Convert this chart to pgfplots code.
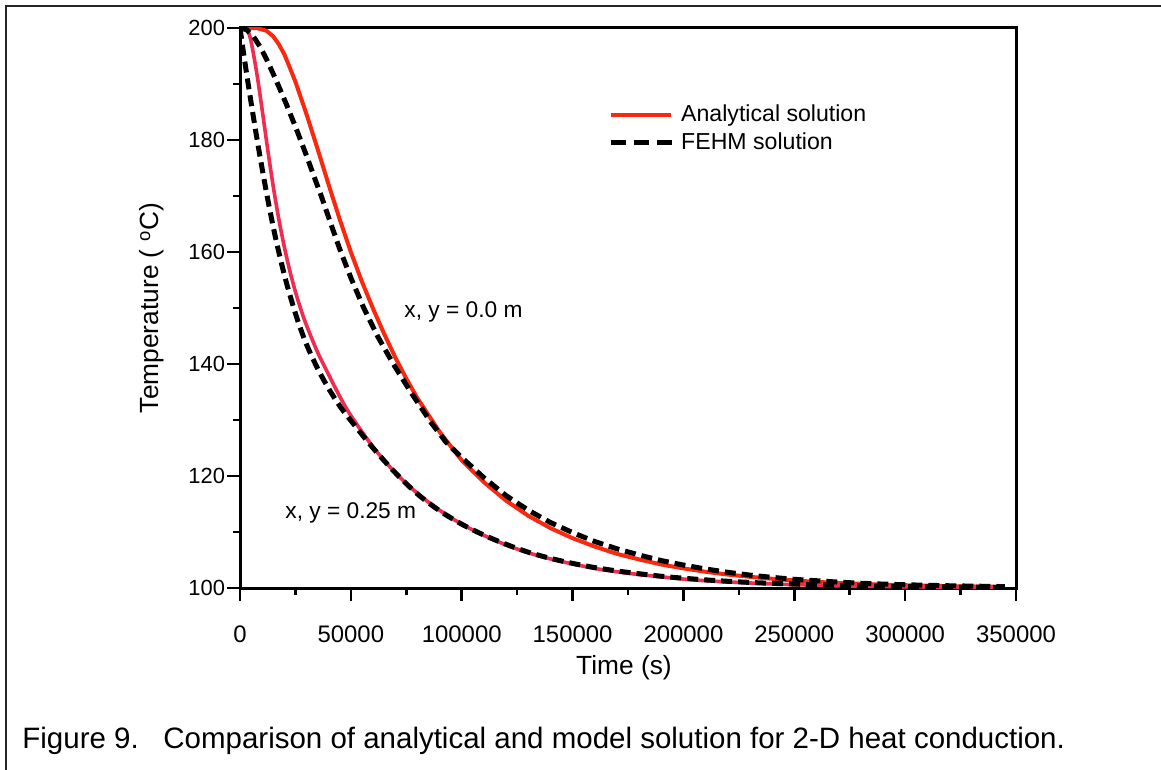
\documentclass[border=0pt]{standalone}
\usepackage{fontspec}
\setmainfont{Liberation Sans}
\usepackage{pgfplots}
\usepackage{pgfplotstable}
\pgfplotsset{compat=1.18}
\definecolor{anared}{RGB}{250,40,15}
\definecolor{anapink}{RGB}{240,45,80}

\pgfplotstableread{
t T
0 200
5000 200
8000 199.95
12000 199.5
15000 198.5
17500 197.1
20000 195.3
22500 192.9
25000 190.4
30000 184.6
35000 178.4
40000 172.0
45000 165.8
50000 160.0
55000 154.7
60000 149.9
65000 145.4
70000 141.2
75000 137.4
80000 133.9
90000 127.9
100000 122.8
110000 118.9
120000 115.6
130000 112.9
140000 110.7
150000 108.9
160000 107.4
170000 106.1
180000 105.1
190000 104.2
200000 103.5
210000 102.9
220000 102.4
230000 102.0
240000 101.65
250000 101.35
260000 101.1
270000 100.9
280000 100.75
290000 100.6
300000 100.5
320000 100.33
345000 100.2
}\anacenter

\pgfplotstableread{
t T
0 200
2000 200
3500 199.5
5000 197.6
7500 192.1
10000 185.4
12500 178.3
15000 171.7
17500 165.9
20000 160.9
22500 156.6
25000 152.9
27500 149.7
30000 146.9
35000 142.1
40000 138.1
45000 134.2
50000 130.8
60000 125.2
70000 120.6
80000 116.9
90000 113.9
100000 111.4
110000 109.4
120000 107.7
130000 106.3
140000 105.2
150000 104.3
160000 103.5
170000 102.9
180000 102.4
190000 102.0
200000 101.6
210000 101.3
220000 101.1
230000 100.9
240000 100.73
250000 100.6
260000 100.49
270000 100.4
280000 100.33
290000 100.27
300000 100.22
320000 100.15
345000 100.09
}\anaquarter

\pgfplotstableread{
t T
0 200
3000 199.7
6000 198.5
9000 196.7
12000 194.4
15000 191.8
18000 189.1
21000 186.3
25570 181.8
30000 177.2
33000 173.9
36830 169.8
41000 165.0
45100 160.4
50000 155.4
55600 150.2
62000 145.0
69150 140.0
77000 135.0
86270 129.5
93000 126.0
100000 123.3
110000 119.7
120000 116.5
130000 113.9
140000 111.7
150000 109.9
160000 108.3
170000 107.0
180000 105.9
190000 104.9
200000 104.1
210000 103.4
220000 102.8
230000 102.3
240000 101.9
250000 101.55
260000 101.3
270000 101.05
280000 100.85
290000 100.7
300000 100.58
320000 100.4
345000 100.25
}\fehmcenter

\pgfplotstableread{
t T
0 200
1500 195.8
3000 191.8
5000 186.7
7000 181.8
9000 177.1
11300 172.0
13500 167.4
16000 162.6
19000 157.5
22000 153.0
26000 147.8
30000 143.5
35000 139.2
40000 135.6
45000 132.5
50000 129.9
60000 125.0
70000 120.6
80000 116.8
90000 113.8
100000 111.4
110000 109.45
120000 107.8
130000 106.4
140000 105.3
150000 104.4
160000 103.65
170000 103.05
180000 102.55
190000 102.1
200000 101.75
210000 101.45
220000 101.2
230000 101.0
240000 100.83
250000 100.7
260000 100.58
270000 100.48
280000 100.4
290000 100.33
300000 100.27
320000 100.18
345000 100.1
}\fehmquarter

\begin{document}
\begin{tikzpicture}[x=1bp,y=1bp]
\useasboundingbox (-120,-90.5) rectangle (460.5,294);
\draw[line width=1.2bp, black!85] (-117,-95) -- (-117,291) -- (465,291);
\begin{axis}[
  at={(0,0)}, anchor=south west,
  scale only axis, width=388bp, height=280bp,
  xmin=0, xmax=350000, ymin=100, ymax=200,
  xtick={0,50000,100000,150000,200000,250000,300000,350000}, ytick={100,120,...,200},
  minor x tick num=1, minor y tick num=1,
  tick align=outside, xtick pos=bottom, ytick pos=left,
  major tick length=6.5bp, minor tick length=3.5bp,
  every tick/.style={black, line width=1.3bp},
  axis line style={line width=1.5bp},
  scaled x ticks=false,
  xticklabel={\pgfmathprintnumber[fixed,precision=0,1000 sep={},assume math mode=true]{\tick}},
  yticklabel={\pgfmathprintnumber[fixed,precision=0,1000 sep={},assume math mode=true]{\tick}},
  xticklabel style={font=\fontsize{12}{14}\selectfont, yshift=-9bp},
  yticklabel style={font=\fontsize{11}{13}\selectfont, xshift=2.5bp},
  label style={font=\fontsize{13.2}{15}\selectfont},
  xlabel={Time (s)},
  ylabel={Temperature ( \textsuperscript{o}C)},
  xlabel style={at={(axis description cs:0.4948,-0.143)}, anchor=center},
  ylabel style={at={(axis description cs:-0.1134,0.5)}, anchor=center},
  legend style={draw=none, fill=none, at={(axis description cs:0.474,0.820)}, anchor=west,
    font=\fontsize{11.6}{14}\selectfont, inner sep=0pt, row sep=3bp, nodes={inner sep=0.5bp},
    /tikz/every odd column/.append style={column sep=2.5bp}},
  legend cell align=left,
  legend image code/.code={\draw[#1] (0bp,0bp) -- (30bp,0bp);},
]
\addplot[anared, line width=2bp] table[x=t,y=T] {\anacenter};
\addlegendentry{Analytical solution}
\addplot[anapink, line width=1.8bp, smooth, forget plot] table[x=t,y=T] {\anaquarter};
\addplot[black, line width=2.5bp, dash pattern=on 5.5bp off 3bp,
  legend image code/.code={\draw[black, line width=2.5bp, dash pattern=on 7.5bp off 4bp] (0bp,0bp) -- (31bp,0bp);}]
  table[x=t,y=T] {\fehmcenter};
\addlegendentry{FEHM solution}
\addplot[black, line width=2.5bp, dash pattern=on 5.5bp off 3bp, smooth, forget plot] table[x=t,y=T] {\fehmquarter};
\node[anchor=west, inner sep=0pt, font=\fontsize{11.4}{13}\selectfont] at (axis cs:74000,149.3) {x, y = 0.0 m};
\node[anchor=west, inner sep=0pt, font=\fontsize{11.4}{13}\selectfont] at (axis cs:20300,113.4) {x, y = 0.25 m};
\end{axis}
\node[anchor=base west, inner sep=0pt, font=\fontsize{14.8}{17}\selectfont] at (-109,-80) {Figure 9.};
\node[anchor=base west, inner sep=0pt, font=\fontsize{14.8}{17}\selectfont] at (-38.5,-80) {Comparison of analytical and model solution for 2-D heat conduction.};
\end{tikzpicture}
\end{document}
